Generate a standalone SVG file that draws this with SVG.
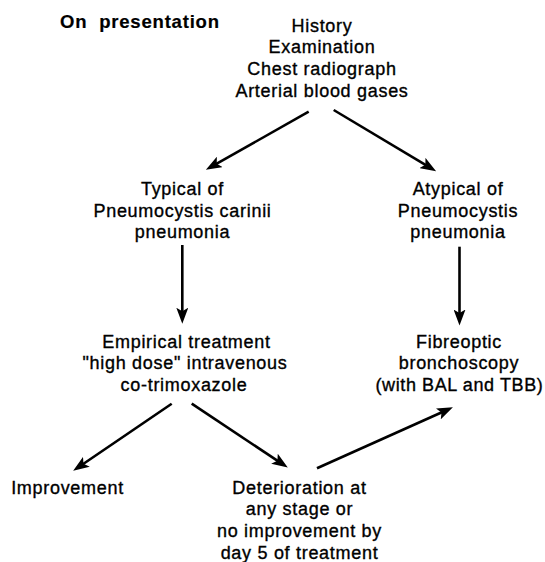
<svg xmlns="http://www.w3.org/2000/svg" width="545" height="562" viewBox="0 0 545 562">
<defs>
<style>
text{font-family:"Liberation Sans",Arial,Helvetica,sans-serif;font-size:18px;letter-spacing:0.7px;fill:#000;stroke:#000;stroke-width:0.35px;text-anchor:middle}
.title{font-size:18.5px;font-weight:bold;letter-spacing:0.8px;text-anchor:start;white-space:pre;stroke-width:0.2px}
.conn line{stroke:#000;stroke-width:2.6;fill:none;marker-end:url(#ah)}
</style>
<marker id="ah" markerUnits="userSpaceOnUse" markerWidth="17" markerHeight="12" refX="7" refY="6" orient="auto">
<path d="M0,0 L16,6 L0,12 L3.5,6 z" fill="#000"/>
</marker>
</defs>
<rect width="545" height="562" fill="#fff"/>
<g id="title"><text class="title" x="60" y="28.3" xml:space="preserve">On  presentation</text></g>
<g id="n-presentation">
<text x="322" y="31.7">History</text>
<text x="322" y="53.4">Examination</text>
<text x="322" y="75.1">Chest radiograph</text>
<text x="322" y="96.8">Arterial blood gases</text>
</g>
<g id="n-typical">
<text x="182.5" y="195">Typical of</text>
<text x="182.5" y="216.7">Pneumocystis carinii</text>
<text x="182.5" y="238.4">pneumonia</text>
</g>
<g id="n-atypical">
<text x="458" y="195">Atypical of</text>
<text x="458" y="216.7">Pneumocystis</text>
<text x="458" y="238.4">pneumonia</text>
</g>
<g id="n-empirical">
<text x="186.5" y="347.7">Empirical treatment</text>
<text x="185" y="369.4">"high dose" intravenous</text>
<text x="184" y="391.1">co-trimoxazole</text>
</g>
<g id="n-bronchoscopy">
<text x="459" y="347.7">Fibreoptic</text>
<text x="459" y="369.4">bronchoscopy</text>
<text x="459.5" y="391.1" textLength="168" lengthAdjust="spacing">(with BAL and TBB)</text>
</g>
<g id="n-improvement">
<text x="67.5" y="493.5">Improvement</text>
</g>
<g id="n-deterioration">
<text x="299.5" y="493.5">Deterioration at</text>
<text x="299.5" y="515.2">any stage or</text>
<text x="299.5" y="536.9">no improvement by</text>
<text x="299.5" y="558.6">day 5 of treatment</text>
</g>
<g id="connectors" class="conn">
<line x1="308.7" y1="111.7" x2="213.7" y2="165.4"/>
<line x1="333.7" y1="110" x2="428.4" y2="166.6"/>
<line x1="182.3" y1="245" x2="182.3" y2="314.7"/>
<line x1="459.5" y1="246.7" x2="459.5" y2="316.5"/>
<line x1="171.7" y1="403.7" x2="80.6" y2="465.8"/>
<line x1="191.7" y1="403.7" x2="280.3" y2="462.6"/>
<line x1="317" y1="468.3" x2="444.7" y2="411"/>
</g>
</svg>
